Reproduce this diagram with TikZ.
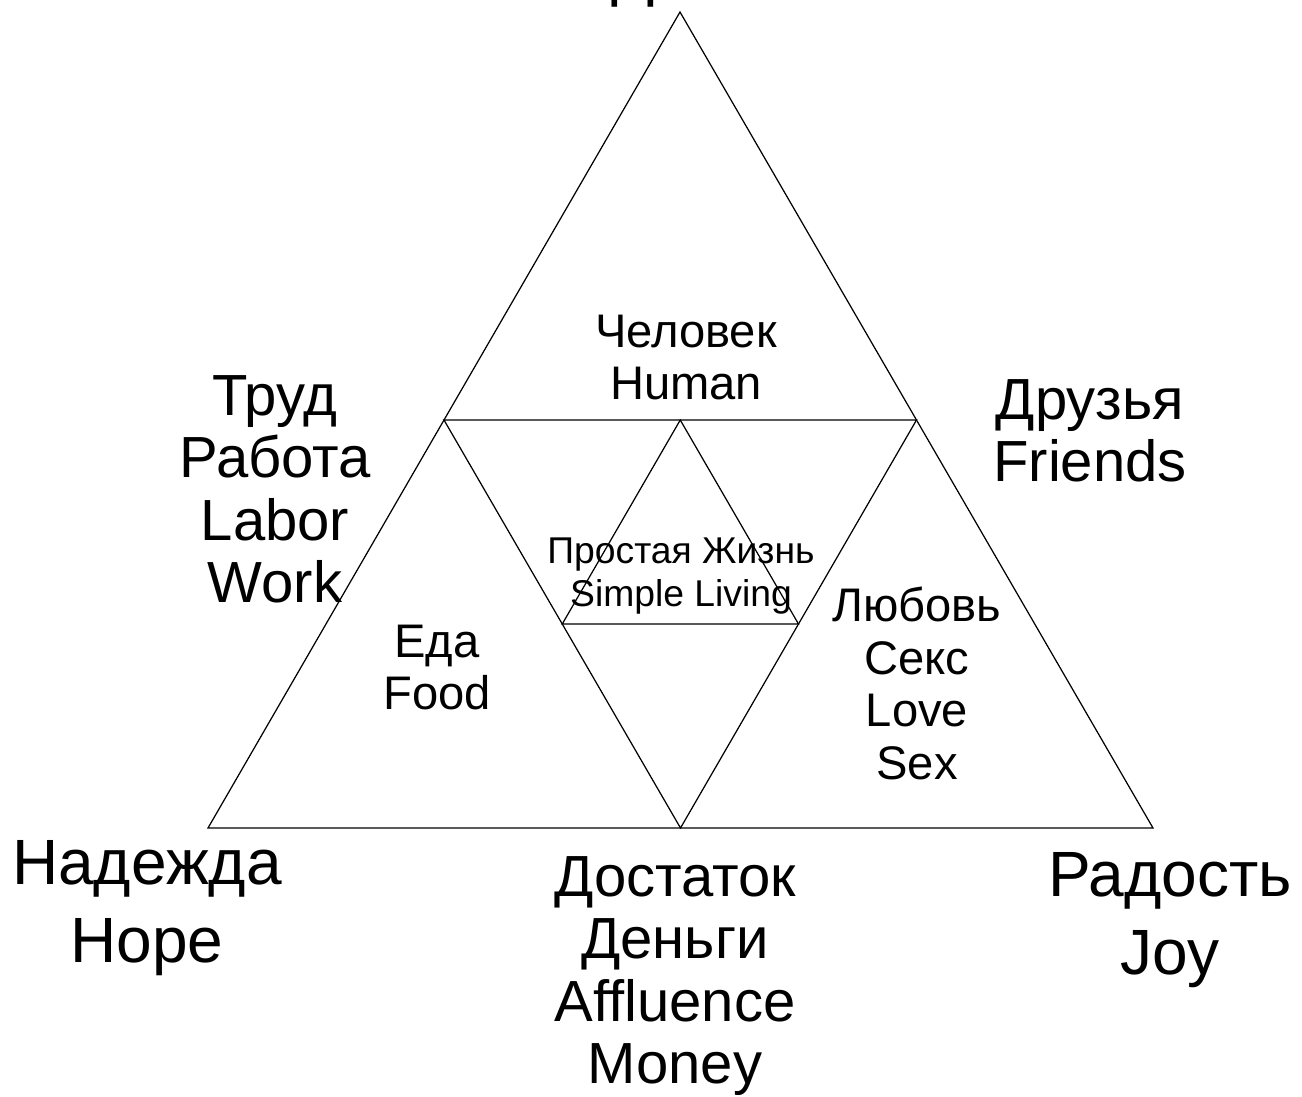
\documentclass[tikz,border=0pt]{standalone}
\usepackage{fontspec}
\setmainfont{Liberation Sans}[Ligatures=NoCommon]
\usetikzlibrary{calc, positioning}

\begin{document}
\begin{tikzpicture}[
  x=0.01cm, y=-0.01cm,
  edge/.style={draw, line width=0.35pt},
  every node/.style={inner sep=0pt, align=center, anchor=north},
  biglabel/.style={font=\fontsize{18.2}{22.2}\selectfont},
  midlabel/.style={font=\fontsize{16.5}{17.7}\selectfont},
  smalllabel/.style={font=\fontsize{13.4}{15}\selectfont},
  tinylabel/.style={font=\fontsize{10.6}{12.2}\selectfont}
]
\useasboundingbox (0,0) rectangle (1302,1096);

% corners of the big triangle
\coordinate (top) at (680,12);
\coordinate (left) at (208,828);
\coordinate (right) at (1153,828);
% midpoints
\coordinate (mleft) at ($(top)!0.5!(left)$);
\coordinate (mright) at ($(top)!0.5!(right)$);
\coordinate (mbottom) at ($(left)!0.5!(right)$);
% inner triangle
\coordinate (ileft) at ($(mleft)!0.5!(mbottom)$);
\coordinate (iright) at ($(mright)!0.5!(mbottom)$);
\coordinate (itop) at ($(mleft)!0.5!(mright)$);

\draw[edge] (top) -- (left) -- (right) -- cycle;
\draw[edge] (mleft) -- (mright) -- (mbottom) -- cycle;
\draw[edge] (itop) -- (ileft) -- (iright) -- cycle;

\node[biglabel, anchor=base west] (deti) at (611,-6) {Дети};
\node[biglabel] (hope) at (147,840) {Надежда\\Hope};
\node[biglabel] (joy) at (1170,852) {Радость\\Joy};
\node[midlabel] (money) at (675,856) {Достаток\\Деньги\\Affluence\\Money};
\node[midlabel] (work) at (275,375) {Труд\\Работа\\Labor\\Work};
\node[midlabel] (friends) at (1090,379) {Друзья\\Friends};
\node[smalllabel] (human) at (686,314) {Человек\\Human};
\node[smalllabel] (food) at (437,624) {Еда\\Food};
\node[smalllabel] (love) at (917,586) {Любовь\\Секс\\Love\\Sex};
\node[tinylabel] (simple) at (681,537) {Простая Жизнь\\Simple Living};
\end{tikzpicture}
\end{document}
